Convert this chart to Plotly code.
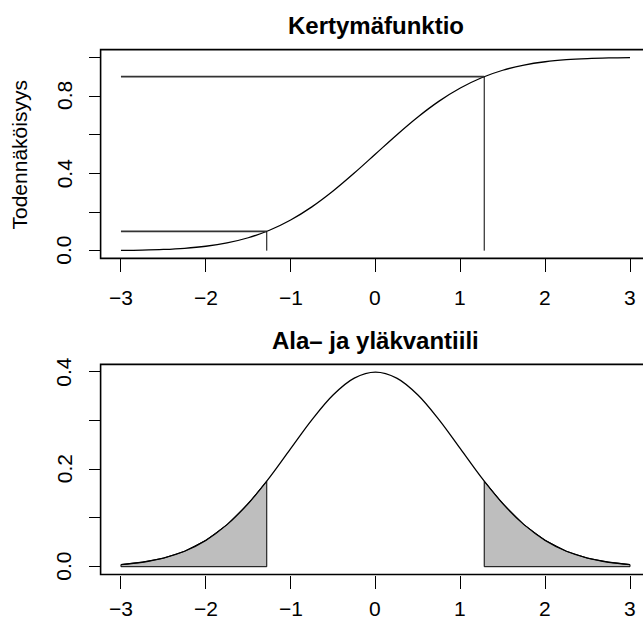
import plotly.graph_objects as go

# Standard normal distribution, evaluated on a grid from -3 to 3
x_grid = [-3.0, -2.75, -2.5, -2.25, -2.0, -1.75, -1.5, -1.25, -1.0, -0.75, -0.5, -0.25,
          0.0, 0.25, 0.5, 0.75, 1.0, 1.25, 1.5, 1.75, 2.0, 2.25, 2.5, 2.75, 3.0]
cdf_vals = [0.0013, 0.0030, 0.0062, 0.0122, 0.0228, 0.0401, 0.0668, 0.1056, 0.1587,
            0.2266, 0.3085, 0.4013, 0.5000, 0.5987, 0.6915, 0.7734, 0.8413, 0.8944,
            0.9332, 0.9599, 0.9772, 0.9878, 0.9938, 0.9970, 0.9987]
pdf_vals = [0.0044, 0.0091, 0.0175, 0.0317, 0.0540, 0.0863, 0.1295, 0.1826, 0.2420,
            0.3011, 0.3521, 0.3867, 0.3989, 0.3867, 0.3521, 0.3011, 0.2420, 0.1826,
            0.1295, 0.0863, 0.0540, 0.0317, 0.0175, 0.0091, 0.0044]

# Lower and upper quantile (10 % and 90 %)
levels = [0.1, 0.9]
quantiles = [-1.2816, 1.2816]
quantile_density = [0.1755, 0.1755]

x_ticks = [-3, -2, -1, 0, 1, 2, 3]
x_tick_text = ["\u22123", "\u22122", "\u22121", "0", "1", "2", "3"]
cdf_ticks = [0.0, 0.2, 0.4, 0.6, 0.8, 1.0]
cdf_labels = {0.0: "0.0", 0.4: "0.4", 0.8: "0.8"}
pdf_ticks = [0.0, 0.1, 0.2, 0.3, 0.4]
pdf_labels = {0.0: "0.0", 0.2: "0.2", 0.4: "0.4"}

W, H = 643, 622
FONT = "Liberation Sans, Arial, Helvetica, sans-serif"
BLACK = "#000000"
SHADE = "#BEBEBE"

# pixel geometry of the two plot regions
LEFT = 100.6
TOP1, BOT1 = 49.6, 258.4
TOP2, BOT2 = 364.4, 574.5

fig = go.Figure()

# ---- upper panel: cumulative distribution ----
fig.add_trace(go.Scatter(x=x_grid, y=cdf_vals, mode="lines",
                         line=dict(color=BLACK, width=1.3, shape="spline"),
                         xaxis="x", yaxis="y", hoverinfo="skip"))
for lv, q in zip(levels, quantiles):
    fig.add_trace(go.Scatter(x=[x_grid[0], q], y=[lv, lv], mode="lines",
                             line=dict(color="#333333", width=1.6),
                             xaxis="x", yaxis="y", hoverinfo="skip"))
    fig.add_trace(go.Scatter(x=[q, q], y=[0, lv], mode="lines",
                             line=dict(color=BLACK, width=1),
                             xaxis="x", yaxis="y", hoverinfo="skip"))

# ---- lower panel: density with shaded tails ----
lo_x = [x for x in x_grid if x < quantiles[0]]
lo_y = pdf_vals[:len(lo_x)]
hi_x = [x for x in x_grid if x > quantiles[1]]
hi_y = pdf_vals[len(x_grid) - len(hi_x):]

tails = [
    ([lo_x[0]] + lo_x + [quantiles[0], quantiles[0], lo_x[0]],
     [0] + lo_y + [quantile_density[0], 0, 0]),
    ([quantiles[1], quantiles[1]] + hi_x + [hi_x[-1], quantiles[1]],
     [0, quantile_density[1]] + hi_y + [0, 0]),
]
for tx, ty in tails:
    fig.add_trace(go.Scatter(x=tx, y=ty, mode="lines", fill="toself",
                             fillcolor=SHADE, line=dict(color=BLACK, width=1),
                             xaxis="x2", yaxis="y2", hoverinfo="skip"))

fig.add_trace(go.Scatter(x=x_grid, y=pdf_vals, mode="lines",
                         line=dict(color=BLACK, width=1.3, shape="spline"),
                         xaxis="x2", yaxis="y2", hoverinfo="skip"))

# ---- axes ----
x_range = [-3.24, 3.153]
xdom = [LEFT / W, 1.0]
common_x = dict(range=x_range, domain=xdom, showgrid=False, zeroline=False,
                showline=False, ticks="outside", ticklen=13, tickwidth=1,
                tickcolor=BLACK, tickvals=x_ticks, showticklabels=False,
                fixedrange=True)
common_y = dict(showgrid=False, zeroline=False, showline=False, ticks="outside",
                ticklen=11, tickwidth=1, tickcolor=BLACK, showticklabels=False,
                fixedrange=True)

fig.update_layout(
    xaxis=dict(**common_x, anchor="y"),
    yaxis=dict(**common_y, range=[-0.04, 1.04], tickvals=cdf_ticks,
               domain=[1 - BOT1 / H, 1 - TOP1 / H], anchor="x"),
    xaxis2=dict(**common_x, anchor="y2"),
    yaxis2=dict(**common_y, range=[-0.016, 0.4149], tickvals=pdf_ticks,
                domain=[1 - BOT2 / H, 1 - TOP2 / H], anchor="x2"),
)

# plot boxes (right edge lies beyond the page)
for top, bot in [(TOP1, BOT1), (TOP2, BOT2)]:
    fig.add_shape(type="rect", xref="paper", yref="paper",
                  x0=LEFT / W, x1=1.02, y0=1 - bot / H, y1=1 - top / H,
                  line=dict(color=BLACK, width=1.6), layer="above")

ann = []
tick_font = dict(family=FONT, size=21, color=BLACK)
title_font = dict(family=FONT, size=24, color=BLACK)

# x tick labels: centre rows for the upper and lower panel
for xa, yc in [("x", 297.0), ("x2", 608.5)]:
    for v, t in zip(x_ticks, x_tick_text):
        ann.append(dict(x=v, xref=xa, y=1 - yc / H, yref="paper",
                        text=t, showarrow=False, font=tick_font,
                        xanchor="center", yanchor="middle"))

for ya, labels in [("y", cdf_labels), ("y2", pdf_labels)]:
    for v, t in labels.items():
        ann.append(dict(x=64 / W, xref="paper", y=v, yref=ya, text=t,
                        textangle=-90, showarrow=False, font=tick_font,
                        xanchor="center", yanchor="middle"))

ann.append(dict(x=19 / W, xref="paper", y=1 - 155.5 / H, yref="paper",
                text="Todennäköisyys", textangle=-90, showarrow=False,
                font=tick_font, xanchor="center", yanchor="middle"))

center_x = (LEFT + 651) / 2 / W
ann.append(dict(x=center_x, xref="paper", y=1 - 25.5 / H, yref="paper",
                text="<b>Kertymäfunktio</b>", showarrow=False, font=title_font,
                xanchor="center", yanchor="middle"))
ann.append(dict(x=center_x, xref="paper", y=1 - 340 / H, yref="paper",
                text="<b>Ala\u2013 ja yläkvantiili</b>", showarrow=False,
                font=title_font, xanchor="center", yanchor="middle"))

fig.update_layout(
    annotations=ann,
    width=W, height=H, autosize=False,
    margin=dict(l=0, r=0, t=0, b=0, pad=0),
    paper_bgcolor="white", plot_bgcolor="white",
    showlegend=False,
)

fig.write_html("out.html")
